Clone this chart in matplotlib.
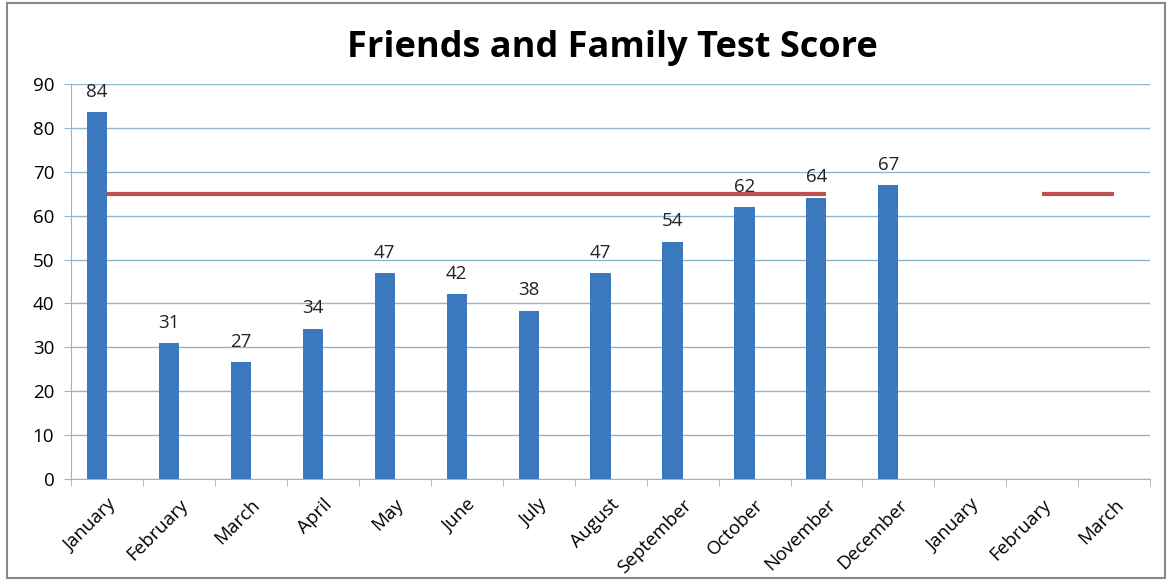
import matplotlib
matplotlib.use("Agg")
import matplotlib.pyplot as plt
from matplotlib.patches import Rectangle
from matplotlib.transforms import ScaledTranslation
import numpy as np

months = ["January", "February", "March", "April", "May", "June", "July",
          "August", "September", "October", "November", "December",
          "January", "February", "March"]
scores = [83.6, 30.9, 26.6, 34.2, 46.9, 42.1, 38.3, 46.9, 54.1, 61.9, 64.1, 66.9]
target = [65, 65, 65, 65, 65, 65, 65, 65, 65, 65, 65, np.nan, np.nan, 65, 65]

plt.rcParams['font.family'] = ['Open Sans', 'DejaVu Sans']

fig = plt.figure(figsize=(11.69, 5.81), dpi=100)
ax = fig.add_axes([0.0607, 0.1756, 0.9233, 0.6798])

grid_col = "#8fb8cf"
x = np.arange(len(months))
xb = x[:len(scores)]
ax.bar(xb - 0.14, scores, width=0.28, color="#3c78bd", zorder=2)
for xi, v in zip(xb, scores):
    ax.text(xi - 0.14, v + 2.6, "%d" % round(v), ha="center", va="bottom",
            fontsize=13.5, color="#222222")

ax.plot(x, target, color="#c0504d", lw=3, zorder=3, solid_capstyle="butt")

ax.set_xlim(-0.5, len(months) - 0.5)
ax.set_ylim(0, 90)
ax.set_yticks(np.arange(0, 91, 10))
ax.yaxis.grid(True, color=grid_col, lw=1)
ax.set_axisbelow(True)

ax.set_xticks(x)
ax.set_xticklabels(months, rotation=45, ha="right", rotation_mode="anchor", fontsize=13.5)
shift = ScaledTranslation(0.08, 0, fig.dpi_scale_trans)
for lab in ax.get_xticklabels():
    lab.set_transform(lab.get_transform() + shift)
ax.tick_params(axis="x", which="major", length=0, pad=12)
ax.set_xticks(np.arange(-0.5, len(months), 1), minor=True)
ax.tick_params(axis="x", which="minor", length=5, color=grid_col, direction="out")
ax.tick_params(axis="y", length=5, color=grid_col, labelsize=13.5, pad=7)

for s in ["top", "right"]:
    ax.spines[s].set_visible(False)
ax.spines["left"].set_color(grid_col)
ax.spines["bottom"].set_color(grid_col)

fig.text(0.524, 0.918, "Friends and Family Test Score", ha="center", va="center",
         fontsize=26, fontweight="bold")

fig.patches.append(Rectangle((0.006, 0.006), 0.991, 0.988, transform=fig.transFigure,
                             fill=False, edgecolor="#888888", lw=1.5))

fig.savefig("out.png", dpi=100)
